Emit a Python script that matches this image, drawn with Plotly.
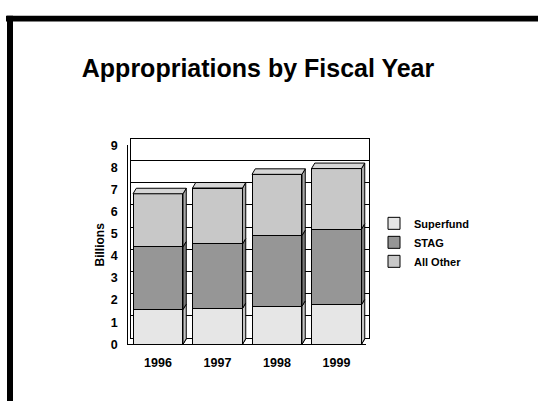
import plotly.graph_objects as go

years = ["1996", "1997", "1998", "1999"]
superfund = [1.57, 1.62, 1.72, 1.79]
stag = [2.84, 2.92, 3.20, 3.42]
all_other = [2.40, 2.53, 2.77, 2.74]
y_ticks = [0, 1, 2, 3, 4, 5, 6, 7, 8, 9]

series = [("Superfund", superfund, "#E6E6E6", "#C4C4C4"),
          ("STAG", stag, "#969696", "#7A7A7A"),
          ("All Other", all_other, "#C8C8C8", "#A8A8A8")]

W, H = 538, 408
FONT = "Arial, Liberation Sans, sans-serif"
xs = list(range(len(years)))
bar_w = 0.84
dx, dy = 0.055, 0.25  # 3D depth in data units

fig = go.Figure()

# back wall subplot (x/y) – invisible trace so the subplot exists
fig.add_trace(go.Scatter(x=[xs[0]], y=[0], mode="markers", marker=dict(opacity=0),
                         showlegend=False, hoverinfo="skip", xaxis="x", yaxis="y"))

for name, vals, col, side in series:
    fig.add_trace(go.Bar(x=xs, y=vals, name=name, width=bar_w,
                         marker=dict(color=col, line=dict(color="black", width=1)),
                         xaxis="x2", yaxis="y2"))

shapes = []
base = [0.0] * len(xs)
for name, vals, col, side in series:
    for i, v in enumerate(vals):
        x1 = xs[i] + bar_w / 2
        b, t = base[i], base[i] + v
        path = f"M {x1},{b} L {x1+dx},{b+dy} L {x1+dx},{t+dy} L {x1},{t} Z"
        shapes.append(dict(type="path", path=path, xref="x2", yref="y2",
                           fillcolor=side, line=dict(color="black", width=1), layer="above"))
    base = [base[i] + vals[i] for i in range(len(xs))]
for i, t in enumerate(base):
    x0 = xs[i] - bar_w / 2
    x1 = xs[i] + bar_w / 2
    path = f"M {x0},{t} L {x0+dx},{t+dy} L {x1+dx},{t+dy} L {x1},{t} Z"
    shapes.append(dict(type="path", path=path, xref="x2", yref="y2",
                       fillcolor="#D6D6D6", line=dict(color="black", width=1), layer="above"))
# floor pieces under each bar
for i in xs:
    x0 = xs[i] - bar_w / 2
    x1 = xs[i] + bar_w / 2
    path = f"M {x0},0 L {x0+dx},{dy} L {x1+dx},{dy} L {x1},0 Z"
    shapes.append(dict(type="path", path=path, xref="x2", yref="y2",
                       fillcolor="#808080", line=dict(color="black", width=1), layer="below"))

# frame border (top and left thick black bars)
shapes.append(dict(type="rect", xref="paper", yref="paper",
                   x0=6 / W, x1=1, y0=1 - 15 / H, y1=1 - 9 / H,
                   fillcolor="black", line=dict(width=0)))
shapes.append(dict(type="rect", xref="paper", yref="paper",
                   x0=7 / W, x1=13 / W, y0=0, y1=1 - 9 / H,
                   fillcolor="black", line=dict(width=0)))

front_x = [128.25 / W, 366.25 / W]
front_y = [(H - 349.3) / H, (H - 143.3) / H]
back_x = [131.25 / W, 369.0 / W]
back_y = [(H - 342.3) / H, (H - 136.3) / H]

tickfont = dict(size=12.5, family=FONT, weight="bold", color="black")

fig.update_layout(
    width=W, height=H,
    margin=dict(l=0, r=0, t=0, b=0),
    paper_bgcolor="white", plot_bgcolor="rgba(0,0,0,0)",
    barmode="stack",
    font=dict(family=FONT, color="black"),
    title=dict(text="Appropriations by Fiscal Year", x=258 / W, xanchor="center",
               y=1 - 68 / H, yanchor="middle",
               font=dict(size=25, color="black", weight="bold", family=FONT)),
    xaxis=dict(domain=back_x, range=[-0.5, 3.5], showgrid=False, zeroline=False,
               showticklabels=False, showline=True, mirror=True, linecolor="black",
               linewidth=1, anchor="y", fixedrange=True),
    yaxis=dict(domain=back_y, range=[0, 9], tickvals=y_ticks, showgrid=True,
               gridcolor="black", gridwidth=1, zeroline=False, showticklabels=False,
               showline=True, mirror=True, linecolor="black", linewidth=1,
               anchor="x", fixedrange=True),
    xaxis2=dict(domain=front_x, range=[-0.5, 3.5], tickvals=xs, ticktext=years,
                showgrid=False, zeroline=False, showline=True, linecolor="black",
                linewidth=1, ticks="", anchor="y2", ticklabelstandoff=7,
                tickfont=tickfont, fixedrange=True),
    yaxis2=dict(domain=front_y, range=[0, 9], tickvals=y_ticks, showgrid=False,
                zeroline=False, showline=True, linecolor="black", linewidth=1,
                ticks="", anchor="x2", ticklabelstandoff=7,
                tickfont=tickfont,
                title=dict(text="Billions", standoff=3,
                           font=dict(size=12, family=FONT, weight="bold")),
                fixedrange=True),
    legend=dict(x=374 / W, y=1 - 209 / H, xanchor="left", yanchor="top",
                font=dict(size=11, family=FONT, weight="bold", color="black"),
                traceorder="normal", tracegroupgap=0, itemwidth=30,
                bgcolor="rgba(0,0,0,0)"),
    shapes=shapes,
)

fig.write_html("out.html")
